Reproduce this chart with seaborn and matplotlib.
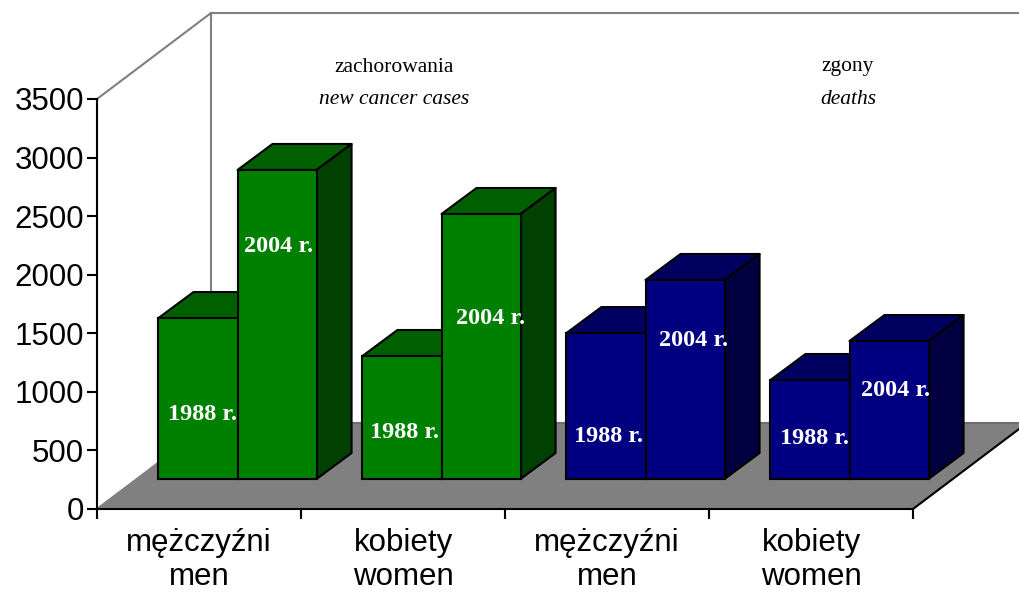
import matplotlib
matplotlib.use("Agg")
import matplotlib.pyplot as plt
from matplotlib.patches import Polygon
from matplotlib.transforms import IdentityTransform
import pandas as pd
import seaborn as sns

categories = ["mężczyźni\nmen", "kobiety\nwomen", "mężczyźni\nmen ", "kobiety\nwomen "]
values_1988 = [1374, 1050, 1246, 845]
values_2004 = [2638, 2262, 1699, 1178]
years = ["1988 r.", "2004 r."]
yticks = [0, 500, 1000, 1500, 2000, 2500, 3000, 3500]
panel_notes = [("zachorowania", "new cancer cases"), ("zgony", "deaths")]

W, H = 1019, 595
X0, X1, Y0, Y3500 = 97, 913, 509, 99      # front plane, pixels from top-left
FLOOR_DX, FLOOR_DY = 114, 86              # full chart depth
BAR_DX, BAR_DY = 38.5, 30                 # front-face shift of bars
DEPTH_DX, DEPTH_DY = 35, 26               # bar depth
LW = 2.0 * 72 / 100 * 1.05

FACE = {"green": ("#008000", "#006000", "#004000"), "blue": ("#000080", "#000060", "#000040")}
group_family = ["green", "green", "blue", "blue"]

sns.set_theme(style="white")
plt.rcParams["font.family"] = ["Liberation Sans", "DejaVu Sans"]
fig = plt.figure(figsize=(W / 100, H / 100), dpi=100, facecolor="white")


def rect(dx=0, dy=0):
    return [(X0 + dx) / W, (H - Y0 + dy) / H, (X1 - X0) / W, (Y0 - Y3500) / H]


ax = fig.add_axes(rect())
ax.set_xlim(-0.5, 3.5)
ax.set_ylim(0, 3500)
ax.patch.set_alpha(0)
for s in ["top", "right"]:
    ax.spines[s].set_visible(False)
for s in ["left", "bottom"]:
    ax.spines[s].set_color("black")
    ax.spines[s].set_linewidth(LW)
    ax.spines[s].set_zorder(6)
ax.set_yticks(yticks)
ax.set_xticks([-0.5, 0.5, 1.5, 2.5, 3.5])
ax.set_xticklabels([])
ax.tick_params(axis="both", length=7.5, width=LW, color="black", labelcolor="black",
               labelsize=22.5, pad=2, left=True, bottom=True)

to_px = lambda x, y: (x, H - y)
identity = IdentityTransform()


def px_poly(pts, **kw):
    fig.add_artist(Polygon([to_px(*p) for p in pts], closed=True, transform=identity, **kw))


# floor and back wall
px_poly([(X0, Y0), (X1, Y0), (X1 + FLOOR_DX, Y0 - FLOOR_DY), (X0 + FLOOR_DX, Y0 - FLOOR_DY)],
        facecolor="#808080", edgecolor="none", zorder=-2)


def px_line(xs, ys, color):
    fig.add_artist(plt.Line2D(xs, [H - y for y in ys], transform=identity, color=color,
                              lw=LW, zorder=-1, solid_capstyle="round"))


back_x, back_top, back_bot = X0 + FLOOR_DX, Y3500 - FLOOR_DY, Y0 - FLOOR_DY
px_line([X0, back_x, W], [Y3500, back_top, back_top], "#808080")
px_line([back_x, back_x], [back_top, back_bot], "#808080")
px_line([back_x, W], [back_bot, back_bot], "#6e6e6e")
px_line([X0, back_x], [Y0, back_bot], "#808080")
px_line([X1, X1 + FLOOR_DX], [Y0, Y0 - FLOOR_DY], "black")

# category labels
for i, c in enumerate(categories):
    ax.text(i, -0.0475, c.strip(), transform=ax.get_xaxis_transform(), ha="center", va="top",
            fontsize=22.5, color="black", linespacing=1.17)

# bars
df = pd.DataFrame({
    "cat": categories * 2,
    "year": [years[0]] * 4 + [years[1]] * 4,
    "value": values_1988 + values_2004,
})
bar_ax = fig.add_axes(rect(BAR_DX, BAR_DY), zorder=3)
sns.barplot(data=df, x="cat", y="value", hue="year", order=categories, hue_order=years,
            width=0.775, dodge=True, legend=False, ax=bar_ax, saturation=1)
bar_ax.set_xlim(-0.5, 3.5)
bar_ax.set_ylim(0, 3500)
bar_ax.axis("off")
bar_ax.patch.set_alpha(0)

fig.canvas.draw()
patches = [p for p in bar_ax.patches if p.get_height() > 0]
patches.sort(key=lambda p: p.get_x())
z = 1
for k, p in enumerate(patches):
    group = k // 2
    front, top, side = FACE[group_family[group]]
    p.set_facecolor(front)
    p.set_edgecolor("black")
    p.set_linewidth(LW)
    p.set_clip_on(False)
    p.set_zorder(z + 2)
    (x0, y0), (x1, y1) = bar_ax.transData.transform([(p.get_x(), 0), (p.get_x() + p.get_width(), p.get_height())])
    edge = dict(edgecolor="black", linewidth=LW, joinstyle="round", clip_on=False, transform=identity)
    bar_ax.add_artist(Polygon([(x0, y1), (x1, y1), (x1 + DEPTH_DX, y1 + DEPTH_DY), (x0 + DEPTH_DX, y1 + DEPTH_DY)],
                              facecolor=top, zorder=z, **edge))
    bar_ax.add_artist(Polygon([(x1, y0), (x1, y1), (x1 + DEPTH_DX, y1 + DEPTH_DY), (x1 + DEPTH_DX, y0 + DEPTH_DY)],
                              facecolor=side, zorder=z + 1, **edge))
    z += 3

# bar labels (pixel centre)
label_px = [(202, 414), (279, 246), (405, 432), (491, 318), (608, 437), (694, 341), (814, 438), (896, 390)]
serif = ["Liberation Serif", "DejaVu Serif"]
for k, (lx, ly) in enumerate(label_px):
    fig.text(lx / W, 1 - ly / H, years[k % 2], color="white", fontsize=17.5, fontweight="bold",
             family=serif, ha="center", va="center", zorder=10)

# panel notes
note_x = [394, 848]
for (pl, en), nx in zip(panel_notes, note_x):
    fig.text(nx / W, 1 - 67 / H, pl, fontsize=15.5, family=serif, color="black", ha="center", va="center")
    fig.text(nx / W, 1 - 99 / H, en, fontsize=15.5, family=serif, style="italic", color="black", ha="center", va="center")

fig.savefig("out.png", dpi=100, facecolor="white")
